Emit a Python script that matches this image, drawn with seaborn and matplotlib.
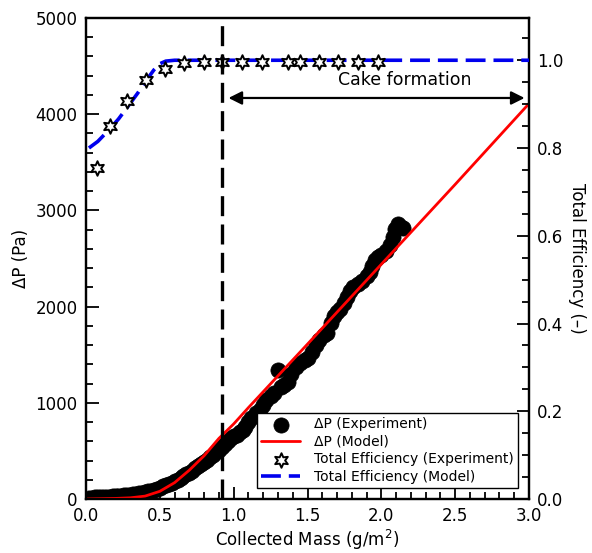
import numpy as np
import pandas as pd
import matplotlib
matplotlib.use("Agg")
import matplotlib.pyplot as plt
from matplotlib.ticker import MultipleLocator
import seaborn as sns

# ---- data ----
exp_mass = [0.02, 0.04, 0.06, 0.08, 0.10, 0.12, 0.14, 0.16, 0.18, 0.20, 0.22, 0.24, 0.26, 0.28,
            0.30, 0.32, 0.34, 0.36, 0.38, 0.40, 0.42, 0.44, 0.46, 0.48, 0.50, 0.52, 0.54, 0.56,
            0.58, 0.60, 0.62, 0.64, 0.66, 0.68, 0.70, 0.72, 0.74, 0.76, 0.78, 0.80, 0.82, 0.84,
            0.86, 0.88, 0.90, 0.92, 0.94, 0.96, 0.98, 1.00, 1.02, 1.04, 1.06, 1.08, 1.10, 1.12,
            1.15, 1.18, 1.20, 1.22, 1.25, 1.27, 1.30, 1.32, 1.34, 1.37, 1.39, 1.42, 1.45, 1.48,
            1.50, 1.53, 1.56, 1.58, 1.61, 1.63, 1.66, 1.68, 1.70, 1.72, 1.75, 1.77, 1.79, 1.81,
            1.84, 1.87, 1.90, 1.92, 1.94, 1.96, 1.98, 2.00, 2.03, 2.06, 2.08, 2.09, 2.11, 2.13, 2.15]
exp_dp = [15, 15, 18, 18, 20, 22, 22, 25, 27, 30, 32, 35, 38, 42,
          45, 50, 55, 60, 65, 72, 80, 88, 97, 107, 118, 130, 142, 155,
          170, 185, 200, 218, 236, 255, 275, 296, 318, 340, 363, 387, 410, 435,
          460, 485, 510, 540, 570, 600, 630, 650, 670, 700, 720, 745, 800, 840,
          890, 930, 980, 1030, 1070, 1100, 1340, 1160, 1190, 1220, 1300, 1370, 1410, 1440,
          1470, 1530, 1600, 1650, 1700, 1730, 1830, 1900, 1940, 1970, 2040, 2100, 2160, 2200,
          2230, 2270, 2320, 2360, 2420, 2480, 2520, 2540, 2580, 2640, 2720, 2810, 2860, 2830, 2820]

model_mass = [0.0, 0.1, 0.2, 0.3, 0.4, 0.5, 0.6, 0.7, 0.8, 0.9, 1.0, 1.1, 1.5, 2.0, 2.5, 3.0]
model_dp = [0, 3, 6, 12, 30, 80, 170, 300, 450, 630, 780, 950, 1610, 2440, 3270, 4110]

eff_mass = [0.077, 0.162, 0.276, 0.406, 0.535, 0.664, 0.799, 0.921, 1.056, 1.192,
            1.368, 1.449, 1.578, 1.706, 1.842, 1.977]
eff_exp = [0.755, 0.850, 0.908, 0.955, 0.980, 0.993, 0.997, 0.997, 0.997, 0.997,
           0.997, 0.997, 0.997, 0.997, 0.997, 0.997]

eff_model_mass = [0.02, 0.08, 0.16, 0.22, 0.28, 0.35, 0.41, 0.46, 0.50, 0.54, 0.60, 3.0]
eff_model = [0.800, 0.815, 0.843, 0.866, 0.893, 0.925, 0.955, 0.978, 0.992, 0.998, 1.0, 1.0]

cake_start = 0.92

# ---- style ----
sns.set_style("white")
plt.rcParams['font.family'] = ['DejaVu Sans']
plt.rcParams['font.size'] = 12
for k in ('text.color', 'axes.labelcolor', 'xtick.color', 'ytick.color'):
    plt.rcParams[k] = 'black'

fig = plt.figure(figsize=(5.92, 5.53), dpi=100)
ax = fig.add_axes([86/592, 54/553, 443/592, 481/553])
ax2 = ax.twinx()

df_exp = pd.DataFrame({'mass': exp_mass, 'dp': exp_dp})
df_mod = pd.DataFrame({'mass': model_mass, 'dp': model_dp})
df_eff = pd.DataFrame({'mass': eff_mass, 'eff': eff_exp})
df_effm = pd.DataFrame({'mass': eff_model_mass, 'eff': eff_model})

sns.scatterplot(data=df_exp, x='mass', y='dp', ax=ax, color='black', s=120,
                edgecolor='black', linewidth=0.5, label='ΔP (Experiment)', zorder=3)
sns.lineplot(data=df_mod, x='mass', y='dp', ax=ax, color='red', linewidth=2.0,
             label='ΔP (Model)', zorder=4)

sns.lineplot(data=df_effm, x='mass', y='eff', ax=ax2, color='#0000ee', linewidth=2.6,
             dashes=False, label='Total Efficiency (Model)', zorder=3)
ax2.lines[-1].set_dashes([5.5, 2.2])
sns.scatterplot(data=df_eff, x='mass', y='eff', ax=ax2, marker=(6, 1, 0), s=110,
                facecolor='white', edgecolor='black', linewidth=1.4,
                label='Total Efficiency (Experiment)', zorder=4)

ax2.axvline(cake_start, color='black', linewidth=2.4, dashes=(6, 2.5), zorder=6)
ax2.annotate('', xy=(0.965, 0.914), xytext=(2.97, 0.914),
             arrowprops=dict(arrowstyle='<|-|>', color='black', lw=1.6,
                             mutation_scale=20, shrinkA=0, shrinkB=0), zorder=6)
ax2.text(2.16, 0.955, 'Cake formation', ha='center', va='center', fontsize=12.5)

ax.set_xlim(0, 3.0)
ax.set_ylim(0, 5000)
ax2.set_ylim(0, 1.0963)

ax.xaxis.set_major_locator(MultipleLocator(0.5))
ax.xaxis.set_minor_locator(MultipleLocator(0.1))
ax.yaxis.set_major_locator(MultipleLocator(1000))
ax.yaxis.set_minor_locator(MultipleLocator(200))
ax2.yaxis.set_major_locator(MultipleLocator(0.2))
ax2.yaxis.set_minor_locator(MultipleLocator(0.05))
ax.xaxis.set_major_formatter(matplotlib.ticker.FormatStrFormatter('%.1f'))
ax2.yaxis.set_major_formatter(matplotlib.ticker.FormatStrFormatter('%.1f'))

ax.tick_params(axis='both', which='major', direction='in', length=9, width=1.3,
               labelsize=12, bottom=True, left=True, top=False, right=False, pad=6)
ax.tick_params(axis='both', which='minor', direction='in', length=5, width=1.3,
               bottom=True, left=True, top=False, right=False)
ax2.tick_params(axis='y', which='major', direction='in', length=9, width=1.3,
                labelsize=12, right=True, pad=6)
ax2.tick_params(axis='y', which='minor', direction='in', length=5, width=1.3, right=True)

for a in (ax, ax2):
    for s in a.spines.values():
        s.set_linewidth(1.6)
        s.set_color('black')

ax.set_xlabel('Collected Mass (g/m$^2$)', fontsize=12, labelpad=2)
ax.set_ylabel('ΔP (Pa)', fontsize=12, labelpad=4)
ax2.set_ylabel('Total Efficiency (–)', fontsize=12, rotation=270, labelpad=16)

h1, l1 = ax.get_legend_handles_labels()
h2, l2 = ax2.get_legend_handles_labels()
if ax.get_legend() is not None:
    ax.get_legend().remove()
handles = {lab: h for h, lab in zip(h1 + h2, l1 + l2)}
order = ['ΔP (Experiment)', 'ΔP (Model)', 'Total Efficiency (Experiment)', 'Total Efficiency (Model)']
leg = ax2.legend([handles[o] for o in order], order, loc='lower right', fontsize=10,
                 frameon=True, fancybox=False, edgecolor='black', framealpha=1,
                 borderaxespad=0.8, handlelength=2.8, labelspacing=0.25,
                 borderpad=0.3, handletextpad=1.0)
leg.get_frame().set_linewidth(1.0)
leg.set_zorder(10)

fig.savefig('out.png', dpi=100)
